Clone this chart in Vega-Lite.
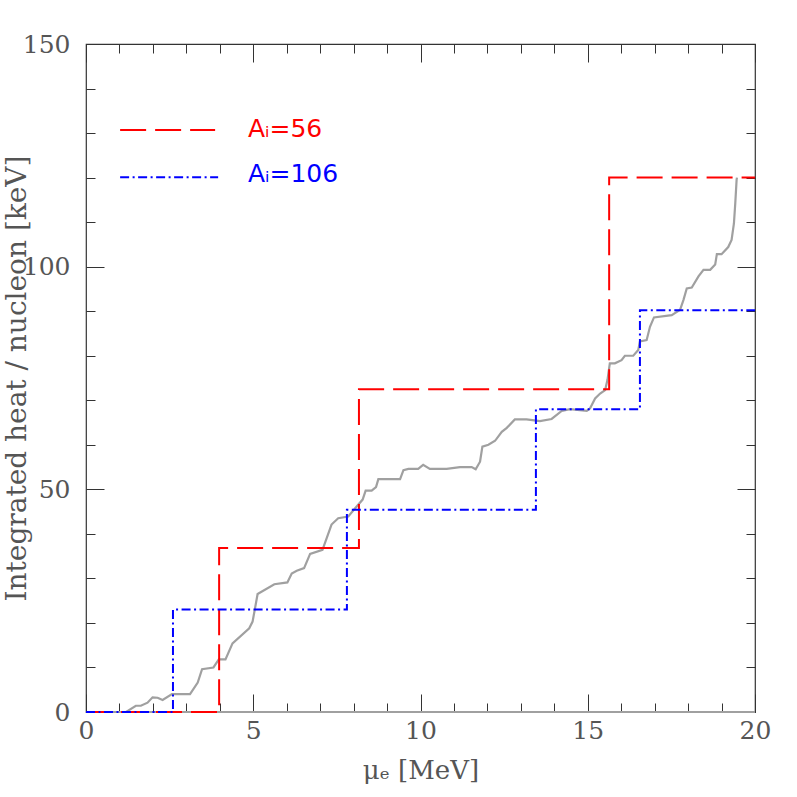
{
  "$schema": "https://vega.github.io/schema/vega-lite/v6.json",
  "width": 669,
  "height": 668,
  "autosize": "none",
  "padding": {"left": 86, "top": 44, "right": 42, "bottom": 85},
  "background": "white",
  "config": {
    "view": {"stroke": "#333333", "strokeWidth": 1.2},
    "axis": {
      "grid": false,
      "domain": false,
      "tickColor": "#333333",
      "tickWidth": 1,
      "labelColor": "#555555",
      "labelFont": "DejaVu Serif",
      "labelFontSize": 25,
      "labelOverlap": false,
      "labelFlush": false,
      "titleFont": "DejaVu Serif",
      "titleColor": "#555555",
      "titleFontWeight": "normal",
      "titleFontSize": 26
    }
  },
  "datasets": {
    "gray": [
      {"s": "base", "x": 0, "y": 0}, {"s": "base", "x": 20, "y": 0},
      {"s": "curve", "x": 0, "y": 0}, {"s": "curve", "x": 1.2, "y": 0},
      {"s": "curve", "x": 1.49, "y": 1.4}, {"s": "curve", "x": 1.64, "y": 1.4},
      {"s": "curve", "x": 1.84, "y": 2.1}, {"s": "curve", "x": 1.99, "y": 3.3},
      {"s": "curve", "x": 2.14, "y": 3.2}, {"s": "curve", "x": 2.29, "y": 2.7},
      {"s": "curve", "x": 2.57, "y": 4.0}, {"s": "curve", "x": 3.11, "y": 4.0},
      {"s": "curve", "x": 3.34, "y": 6.6}, {"s": "curve", "x": 3.47, "y": 9.6},
      {"s": "curve", "x": 3.81, "y": 10.0}, {"s": "curve", "x": 3.97, "y": 11.8},
      {"s": "curve", "x": 4.17, "y": 11.8}, {"s": "curve", "x": 4.38, "y": 15.4},
      {"s": "curve", "x": 4.88, "y": 18.8}, {"s": "curve", "x": 4.98, "y": 20.3},
      {"s": "curve", "x": 5.13, "y": 26.5}, {"s": "curve", "x": 5.63, "y": 28.7},
      {"s": "curve", "x": 6.02, "y": 29.1}, {"s": "curve", "x": 6.15, "y": 31.1},
      {"s": "curve", "x": 6.3, "y": 31.7}, {"s": "curve", "x": 6.52, "y": 32.3},
      {"s": "curve", "x": 6.7, "y": 35.5}, {"s": "curve", "x": 7.07, "y": 36.4},
      {"s": "curve", "x": 7.34, "y": 42.1}, {"s": "curve", "x": 7.54, "y": 43.5},
      {"s": "curve", "x": 7.84, "y": 43.9}, {"s": "curve", "x": 8.04, "y": 45.7},
      {"s": "curve", "x": 8.27, "y": 47.7}, {"s": "curve", "x": 8.36, "y": 49.7},
      {"s": "curve", "x": 8.54, "y": 49.7}, {"s": "curve", "x": 8.67, "y": 50.5},
      {"s": "curve", "x": 8.74, "y": 52.3}, {"s": "curve", "x": 9.39, "y": 52.3},
      {"s": "curve", "x": 9.49, "y": 54.3}, {"s": "curve", "x": 9.64, "y": 54.6},
      {"s": "curve", "x": 9.93, "y": 54.6}, {"s": "curve", "x": 10.08, "y": 55.5},
      {"s": "curve", "x": 10.28, "y": 54.6}, {"s": "curve", "x": 10.78, "y": 54.6},
      {"s": "curve", "x": 11.18, "y": 55.0}, {"s": "curve", "x": 11.53, "y": 55.0},
      {"s": "curve", "x": 11.65, "y": 54.5}, {"s": "curve", "x": 11.78, "y": 56.2},
      {"s": "curve", "x": 11.85, "y": 59.6}, {"s": "curve", "x": 12.03, "y": 60.0},
      {"s": "curve", "x": 12.23, "y": 60.9}, {"s": "curve", "x": 12.43, "y": 62.9},
      {"s": "curve", "x": 12.58, "y": 63.8}, {"s": "curve", "x": 12.82, "y": 65.7},
      {"s": "curve", "x": 13.17, "y": 65.7}, {"s": "curve", "x": 13.57, "y": 65.3},
      {"s": "curve", "x": 13.92, "y": 65.8}, {"s": "curve", "x": 14.22, "y": 67.6},
      {"s": "curve", "x": 14.47, "y": 68.0}, {"s": "curve", "x": 14.97, "y": 67.6},
      {"s": "curve", "x": 15.07, "y": 68.2}, {"s": "curve", "x": 15.22, "y": 70.4},
      {"s": "curve", "x": 15.37, "y": 71.5}, {"s": "curve", "x": 15.52, "y": 72.3},
      {"s": "curve", "x": 15.59, "y": 74.6}, {"s": "curve", "x": 15.66, "y": 78.3},
      {"s": "curve", "x": 15.81, "y": 78.3}, {"s": "curve", "x": 16.01, "y": 79.0},
      {"s": "curve", "x": 16.11, "y": 80.0}, {"s": "curve", "x": 16.36, "y": 80.0},
      {"s": "curve", "x": 16.51, "y": 81.3}, {"s": "curve", "x": 16.56, "y": 83.2},
      {"s": "curve", "x": 16.76, "y": 83.5}, {"s": "curve", "x": 16.86, "y": 86.5},
      {"s": "curve", "x": 16.98, "y": 88.6}, {"s": "curve", "x": 17.51, "y": 89.1},
      {"s": "curve", "x": 17.76, "y": 90.3}, {"s": "curve", "x": 17.86, "y": 92.5},
      {"s": "curve", "x": 17.96, "y": 95.1}, {"s": "curve", "x": 18.11, "y": 95.3},
      {"s": "curve", "x": 18.31, "y": 97.8}, {"s": "curve", "x": 18.46, "y": 99.3},
      {"s": "curve", "x": 18.66, "y": 99.3}, {"s": "curve", "x": 18.81, "y": 100.5},
      {"s": "curve", "x": 18.86, "y": 102.8}, {"s": "curve", "x": 19.0, "y": 102.8},
      {"s": "curve", "x": 19.2, "y": 104.4}, {"s": "curve", "x": 19.3, "y": 106.0},
      {"s": "curve", "x": 19.37, "y": 109.7}, {"s": "curve", "x": 19.41, "y": 114.2},
      {"s": "curve", "x": 19.45, "y": 119.5}, {"s": "curve", "x": 19.46, "y": 120.0}
    ],
    "red": [
      {"s": "step", "x": 0, "y": 0}, {"s": "step", "x": 3.98, "y": 36.8},
      {"s": "step", "x": 8.16, "y": 72.5}, {"s": "step", "x": 15.64, "y": 120},
      {"s": "step", "x": 20, "y": 120},
      {"s": "key", "x": 1.02, "y": 130.7}, {"s": "key", "x": 3.86, "y": 130.7}
    ],
    "blue": [
      {"s": "step", "x": 0, "y": 0}, {"s": "step", "x": 2.6, "y": 23.0},
      {"s": "step", "x": 7.8, "y": 45.4}, {"s": "step", "x": 13.45, "y": 68.0},
      {"s": "step", "x": 16.56, "y": 90.2}, {"s": "step", "x": 20, "y": 90.2},
      {"s": "key", "x": 1.02, "y": 120.1}, {"s": "key", "x": 3.95, "y": 120.1}
    ],
    "labels": [
      {"label": "Aᵢ=56", "series": "56", "x": 4.84, "y": 129.1},
      {"label": "Aᵢ=106", "series": "106", "x": 4.84, "y": 119.0}
    ]
  },
  "layer": [
    {
      "data": {"name": "gray"},
      "mark": {"type": "line", "color": "#a0a0a0", "strokeWidth": 2.2},
      "encoding": {
        "x": {
          "field": "x", "type": "quantitative",
          "scale": {"domain": [0, 20], "nice": false, "zero": false},
          "axis": {
            "orient": "bottom",
            "values": [0,1,2,3,4,5,6,7,8,9,10,11,12,13,14,15,16,17,18,19,20],
            "tickSize": {"condition": {"test": "datum.value % 5 === 0", "value": -18}, "value": -9},
            "labelExpr": "datum.value % 5 === 0 ? datum.label : ''",
            "labelPadding": 24,
            "title": "μₑ [MeV]",
            "titleX": 334.5, "titleY": 66,
            "titleAlign": "center", "titleBaseline": "alphabetic"
          }
        },
        "y": {
          "field": "y", "type": "quantitative",
          "scale": {"domain": [0, 150], "nice": false, "zero": false},
          "axis": {
            "orient": "left",
            "values": [0,10,20,30,40,50,60,70,80,90,100,110,120,130,140,150],
            "tickSize": {"condition": {"test": "datum.value % 50 === 0", "value": -18}, "value": -9},
            "labelExpr": "datum.value % 50 === 0 ? datum.label : ''",
            "labelPadding": 34,
            "title": "Integrated heat / nucleon [keV]",
            "titleFontSize": 28,
            "titleX": -61, "titleY": 334,
            "titleAngle": -90,
            "titleAlign": "center", "titleBaseline": "alphabetic"
          }
        },
        "detail": {"field": "s"}
      }
    },
    {
      "data": {"name": "red"},
      "mark": {"type": "line", "color": "#ff0000", "strokeWidth": 2, "strokeDash": [26, 9], "interpolate": "step-after"},
      "encoding": {
        "x": {
          "field": "x", "type": "quantitative",
          "scale": {"domain": [0, 20], "nice": false, "zero": false},
          "axis": {
            "orient": "top",
            "values": [0,1,2,3,4,5,6,7,8,9,10,11,12,13,14,15,16,17,18,19,20],
            "tickSize": {"condition": {"test": "datum.value % 5 === 0", "value": -18}, "value": -9},
            "labels": false,
            "title": null
          }
        },
        "y": {
          "field": "y", "type": "quantitative",
          "scale": {"domain": [0, 150], "nice": false, "zero": false},
          "axis": {
            "orient": "right",
            "values": [0,10,20,30,40,50,60,70,80,90,100,110,120,130,140,150],
            "tickSize": {"condition": {"test": "datum.value % 50 === 0", "value": -18}, "value": -9},
            "labels": false,
            "title": null
          }
        },
        "detail": {"field": "s"}
      }
    },
    {
      "data": {"name": "blue"},
      "mark": {"type": "line", "color": "#0000ff", "strokeWidth": 2, "strokeDash": [9, 3.5, 2, 3.5], "interpolate": "step-after"},
      "encoding": {
        "x": {"field": "x", "type": "quantitative", "scale": {"domain": [0, 20], "nice": false, "zero": false}, "axis": null},
        "y": {"field": "y", "type": "quantitative", "scale": {"domain": [0, 150], "nice": false, "zero": false}, "axis": null},
        "detail": {"field": "s"}
      }
    },
    {
      "data": {"name": "labels"},
      "mark": {"type": "text", "font": "DejaVu Sans", "fontSize": 25, "align": "left", "baseline": "alphabetic"},
      "encoding": {
        "x": {"field": "x", "type": "quantitative", "scale": {"domain": [0, 20], "nice": false, "zero": false}, "axis": null},
        "y": {"field": "y", "type": "quantitative", "scale": {"domain": [0, 150], "nice": false, "zero": false}, "axis": null},
        "text": {"field": "label"},
        "color": {"field": "series", "type": "nominal", "scale": {"domain": ["56", "106"], "range": ["#ff0000", "#0000ff"]}, "legend": null}
      }
    }
  ],
  "resolve": {"axis": {"x": "independent", "y": "independent"}}
}
